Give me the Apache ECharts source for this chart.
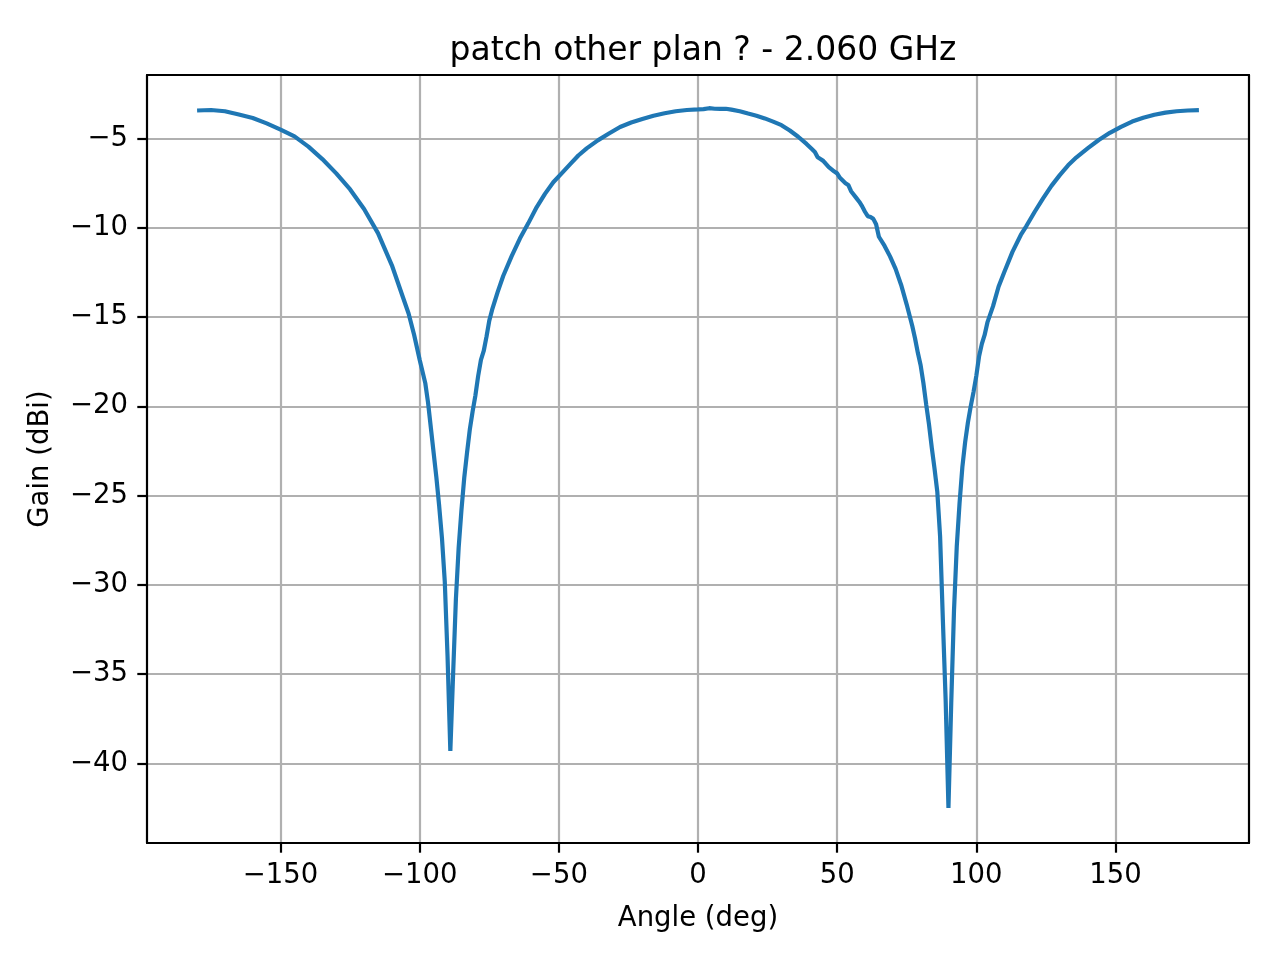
<!DOCTYPE html>
<html>
<head>
<meta charset="utf-8">
<script src="https://cdn.jsdelivr.net/npm/echarts@6/dist/echarts.min.js"></script>
<style>
html,body{margin:0;padding:0;background:#fff;}
#chart{width:1280px;height:960px;}
</style>
</head>
<body>
<div id="chart"></div>
<script>
const titleText = 'patch other plan ? - 2.060 GHz';
const xLabel = 'Angle (deg)';
const yLabel = 'Gain (dBi)';
const xTicks = [-150, -100, -50, 0, 50, 100, 150];
const yTicks = [-40, -35, -30, -25, -20, -15, -10, -5];

const angles = [
  -180, -175, -170, -165, -160, -155, -150, -145, -140, -135, -130, -125, -120, -115, -110,
  -106, -104, -102, -100, -98, -97, -96, -95, -94, -93, -92, -91, -90, -89, -88, -87, -86,
  -85, -84, -83, -82, -81, -80, -79, -78, -77, -76, -75, -74, -72, -70, -67, -64, -61, -58,
  -55, -52, -49, -46, -43, -40, -36, -32, -28, -24, -20, -16, -12, -8, -4, 0, 2, 4, 6, 8,
  10, 12, 15, 18, 21, 24, 27, 30, 33, 36, 39, 41, 42, 43, 44, 45, 47, 49, 50, 51, 53, 54,
  55, 57, 58, 59, 60, 61, 62, 63, 64, 65, 67, 69, 71, 73, 75, 76, 77, 78, 79, 80, 81, 82,
  83, 84, 85, 86, 87, 88, 89, 90, 91, 92, 93, 94, 95, 96, 97, 98, 99, 100, 101, 102, 103,
  104, 105, 106, 108, 110, 113, 116, 118, 121, 124, 127, 130, 133, 136, 140, 144, 148, 152,
  156, 160, 164, 168, 172, 176, 180
];
const gain = [
  -3.43, -3.40, -3.47, -3.65, -3.85, -4.15, -4.50, -4.88, -5.45, -6.15, -6.95, -7.85, -8.95, -10.3, -12.1,
  -13.9, -14.8, -16.0, -17.4, -18.7, -19.8, -21.2, -22.6, -24.0, -25.6, -27.4, -29.8, -34.0, -39.3, -35.0, -30.8, -27.9,
  -25.8, -24.0, -22.6, -21.3, -20.3, -19.4, -18.3, -17.4, -16.9, -16.1, -15.2, -14.6, -13.6, -12.7, -11.6, -10.6, -9.75, -8.85,
  -8.1, -7.45, -6.95, -6.45, -5.95, -5.55, -5.1, -4.72, -4.35, -4.1, -3.9, -3.72, -3.58, -3.47, -3.40, -3.37, -3.35, -3.30, -3.33, -3.34,
  -3.33, -3.38, -3.47, -3.6, -3.72, -3.87, -4.05, -4.25, -4.55, -4.9, -5.3, -5.6, -5.75, -6.05, -6.15, -6.25, -6.6, -6.85, -6.95, -7.2, -7.5, -7.6,
  -7.95, -8.35, -8.55, -8.8, -9.1, -9.35, -9.4, -9.5, -9.8, -10.5, -11.0, -11.6, -12.3, -13.2, -14.3, -14.9, -15.5, -16.2, -17.0, -17.7, -18.7, -19.9,
  -21.0, -22.3, -23.5, -24.8, -27.3, -32.0, -36.5, -42.5, -36.6, -31.4, -27.8, -25.4, -23.4, -22.0, -20.9, -20.0, -19.2, -18.3, -17.2, -16.5, -16.0,
  -15.3, -14.85, -14.4, -13.3, -12.5, -11.35, -10.4, -9.9, -9.1, -8.35, -7.65, -7.05, -6.5, -6.05, -5.55, -5.08, -4.68, -4.35,
  -4.05, -3.84, -3.67, -3.55, -3.47, -3.43, -3.41
];

const points = angles.map((a, i) => [a, gain[i]]);
const fmt = v => (v < 0 ? '\u2212' + Math.abs(v) : String(v));
const FONT = 'DejaVu Sans';
const xMin = -198, xMax = 198, yMin = -44.46, yMax = -1.44;

const chart = echarts.init(document.getElementById('chart'), null, {renderer: 'canvas'});
chart.setOption({
  animation: false,
  backgroundColor: '#ffffff',
  title: {
    text: titleText,
    left: 698,
    textAlign: 'center',
    top: 30,
    textStyle: {fontFamily: FONT, fontSize: 33, fontWeight: 'normal', color: '#000'}
  },
  grid: {left: 147, right: 31, top: 75, bottom: 117, containLabel: false},
  xAxis: [{
    type: 'value', min: xMin, max: xMax,
    name: xLabel, nameLocation: 'middle', nameGap: 62,
    nameTextStyle: {fontFamily: FONT, fontSize: 27.5, color: '#000'},
    axisLine: {show: true, onZero: false, lineStyle: {color: '#000', width: 2.2}},
    axisTick: {show: true, inside: false, length: 9.7, customValues: xTicks, lineStyle: {color: '#000', width: 2.2}},
    axisLabel: {show: true, margin: 19, customValues: xTicks, formatter: fmt, fontFamily: FONT, fontSize: 27.5, color: '#000'},
    splitLine: {show: true, lineStyle: {color: '#b0b0b0', width: 2.2}}
  }, {
    type: 'value', min: xMin, max: xMax, position: 'top', z: 5,
    axisLine: {show: true, onZero: false, lineStyle: {color: '#000', width: 2.2}},
    axisTick: {show: false}, axisLabel: {show: false}, splitLine: {show: false}
  }],
  yAxis: [{
    type: 'value', min: yMin, max: yMax,
    name: yLabel, nameLocation: 'middle', nameGap: 92, nameRotate: 90,
    nameTextStyle: {fontFamily: FONT, fontSize: 27.5, color: '#000'},
    axisLine: {show: true, onZero: false, lineStyle: {color: '#000', width: 2.2}},
    axisTick: {show: true, inside: false, length: 9.7, customValues: yTicks, lineStyle: {color: '#000', width: 2.2}},
    axisLabel: {show: true, margin: 19, customValues: yTicks, formatter: fmt, fontFamily: FONT, fontSize: 27.5, color: '#000'},
    splitLine: {show: true, lineStyle: {color: '#b0b0b0', width: 2.2}}
  }, {
    type: 'value', min: yMin, max: yMax, position: 'right', z: 5,
    axisLine: {show: true, onZero: false, lineStyle: {color: '#000', width: 2.2}},
    axisTick: {show: false}, axisLabel: {show: false}, splitLine: {show: false}
  }],
  series: [{
    type: 'line',
    data: points,
    xAxisIndex: 0, yAxisIndex: 0,
    showSymbol: false,
    symbol: 'none',
    smooth: false,
    lineStyle: {color: '#1f77b4', width: 4.2},
    itemStyle: {color: '#1f77b4'},
    clip: true,
    z: 3
  }]
});
</script>
</body>
</html>
